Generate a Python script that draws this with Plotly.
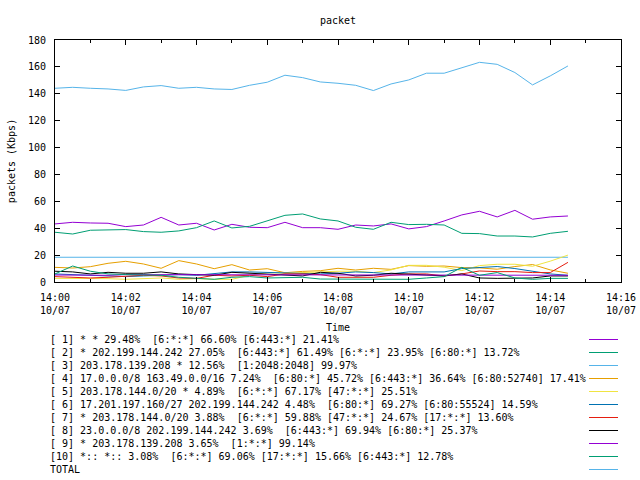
import pandas as pd
import plotly.graph_objects as go

# ---- data -------------------------------------------------------------
times = pd.date_range("2010-10-07 14:00:00", periods=30, freq="30s")

s1 = [43.2, 44.4, 43.9, 43.7, 41.2, 42.4, 48.1, 42.4, 43.7, 38.7, 42.9, 40.7, 40.4, 44.4, 40.4,
      40.4, 39.2, 42.4, 41.7, 43.2, 39.5, 41.2, 45.4, 49.9, 52.6, 48.4, 53.3, 46.7, 48.4, 49.1]
s2 = [37.0, 35.7, 38.5, 39.0, 39.0, 37.5, 37.0, 38.0, 40.4, 45.4, 40.2, 41.4, 45.7, 49.6, 50.6,
      46.9, 45.4, 40.7, 39.2, 44.4, 42.7, 42.9, 42.4, 36.2, 36.0, 34.2, 34.2, 33.5, 36.2, 37.7]
s3 = [18.4] * 30
s4 = [10.9, 10.4, 11.4, 13.9, 15.4, 13.4, 10.2, 15.9, 13.4, 9.9, 12.9, 8.9, 9.9, 6.9, 7.9,
      8.4, 10.2, 8.9, 10.2, 9.4, 12.2, 11.7, 11.9, 10.7, 10.5, 9.5, 11.5, 13.0, 9.0, 6.5]
s5 = [2.7, 2.7, 2.5, 2.5, 2.0, 2.5, 3.0, 2.0, 2.5, 2.0, 2.0, 5.0, 7.0, 6.5, 7.0,
      8.0, 8.0, 8.0, 7.0, 9.0, 12.4, 12.4, 11.0, 8.5, 12.2, 13.2, 13.2, 11.7, 15.5, 20.0]
s6 = [6.0, 5.5, 5.0, 4.5, 4.0, 4.5, 5.0, 5.5, 5.0, 6.0, 7.5, 7.5, 7.0, 7.0, 6.5,
      6.0, 6.5, 7.5, 7.0, 6.0, 7.5, 7.5, 7.5, 10.0, 11.0, 11.5, 10.0, 8.0, 6.0, 5.0]
s7 = [4.0, 3.5, 3.0, 3.5, 4.5, 5.0, 4.5, 3.0, 2.7, 5.0, 4.5, 5.0, 4.0, 6.0, 6.0,
      5.5, 3.5, 3.5, 3.5, 5.0, 6.0, 6.0, 4.5, 6.0, 8.2, 7.7, 7.7, 7.0, 7.0, 14.6]
s8 = [8.0, 7.5, 6.0, 7.2, 6.5, 6.5, 7.5, 6.0, 5.5, 5.0, 7.2, 6.5, 5.5, 5.0, 4.5,
      7.2, 6.5, 4.5, 5.0, 6.5, 6.0, 5.5, 4.5, 6.0, 3.0, 2.7, 2.7, 3.0, 4.5, 4.5]
s9 = [5.2, 5.0, 5.0, 5.0, 5.5, 5.5, 5.0, 5.0, 5.0, 5.5, 5.5, 5.5, 5.0, 5.0, 5.0,
      5.5, 5.5, 5.0, 5.0, 5.0, 5.5, 5.5, 5.0, 5.0, 5.5, 5.5, 5.0, 5.0, 5.0, 5.0]
s10 = [6.0, 11.9, 8.0, 6.0, 5.5, 5.5, 5.0, 3.5, 3.0, 2.0, 3.5, 4.0, 3.0, 3.0, 3.5,
       2.2, 2.2, 2.0, 2.0, 2.0, 2.0, 3.0, 4.0, 10.9, 5.0, 7.0, 3.0, 2.0, 2.7, 2.7]
total = [144.1, 144.8, 144.1, 143.6, 142.5, 145.1, 146.1, 144.1, 144.8, 143.6, 143.2, 146.3, 148.6,
         153.8, 152.0, 148.8, 147.8, 146.3, 142.4, 147.3, 150.3, 155.3, 155.3, 159.2, 163.4,
         161.9, 155.8, 146.6, 153.3, 160.7]

labels = [
    "[ 1] * * 29.48%  [6:*:*] 66.60% [6:443:*] 21.41%",
    "[ 2] * 202.199.144.242 27.05%  [6:443:*] 61.49% [6:*:*] 23.95% [6:80:*] 13.72%",
    "[ 3] 203.178.139.208 * 12.56%  [1:2048:2048] 99.97%",
    "[ 4] 17.0.0.0/8 163.49.0.0/16 7.24%  [6:80:*] 45.72% [6:443:*] 36.64% [6:80:52740] 17.41%",
    "[ 5] 203.178.144.0/20 * 4.89%  [6:*:*] 67.17% [47:*:*] 25.51%",
    "[ 6] 17.201.197.160/27 202.199.144.242 4.48%  [6:80:*] 69.27% [6:80:55524] 14.59%",
    "[ 7] * 203.178.144.0/20 3.88%  [6:*:*] 59.88% [47:*:*] 24.67% [17:*:*] 13.60%",
    "[ 8] 23.0.0.0/8 202.199.144.242 3.69%  [6:443:*] 69.94% [6:80:*] 25.37%",
    "[ 9] * 203.178.139.208 3.65%  [1:*:*] 99.14%",
    "[10] *:: *:: 3.08%  [6:*:*] 69.06% [17:*:*] 15.66% [6:443:*] 12.78%",
    "TOTAL",
]
series = [s1, s2, s3, s4, s5, s6, s7, s8, s9, s10, total]
colors = ["#9400d3", "#009e73", "#56b4e9", "#e69f00", "#f0e442", "#0072b2",
          "#e51e10", "#000000", "#9400d3", "#009e73", "#56b4e9"]

# ---- layout geometry (reference pixels) --------------------------------
W, H = 640, 480
PLOT_X0, PLOT_X1, PLOT_Y0, PLOT_Y1 = 55, 621, 40, 282
L, R, T, B = PLOT_X0, W - PLOT_X1, PLOT_Y0, H - PLOT_Y1
PW, PH = PLOT_X1 - PLOT_X0, PLOT_Y1 - PLOT_Y0
FONT = "DejaVu Sans Mono, monospace"


def px2paper_x(px):
    return (px - PLOT_X0) / PW


def px2paper_y(py):
    return (PLOT_Y1 - py) / PH


fig = go.Figure()
for name, ys, c in zip(labels, series, colors):
    fig.add_trace(go.Scatter(x=times, y=ys, mode="lines", name=name,
                             line=dict(color=c, width=1), showlegend=False,
                             hoverinfo="skip"))

# gnuplot-style key below the plot: text on the left, sample line on the right
for i, (name, c) in enumerate(zip(labels, colors)):
    ypx = 339.5 + 13 * i
    fig.add_annotation(x=px2paper_x(48), y=px2paper_y(ypx), xref="paper", yref="paper",
                       text=name.replace(" ", "\u00a0"), showarrow=False,
                       xanchor="left", yanchor="middle",
                       font=dict(family=FONT, size=10, color="black"))
    fig.add_shape(type="line", xref="paper", yref="paper",
                  x0=px2paper_x(589), x1=px2paper_x(618),
                  y0=px2paper_y(ypx), y1=px2paper_y(ypx),
                  line=dict(color=c, width=1))

axis_common = dict(showline=True, linecolor="black", linewidth=1, mirror="ticks",
                   ticks="inside", tickcolor="black", ticklen=5, tickwidth=1,
                   showgrid=False, zeroline=False,
                   tickfont=dict(family=FONT, size=10, color="black"))

fig.update_xaxes(type="date", range=["2010-10-07 14:00:00", "2010-10-07 14:16:00"],
                 dtick=120000, tick0="2010-10-07 14:00:00",
                 tickformat="%H:%M<br>%m/%d",
                 minor=dict(ticks="inside", dtick=60000, ticklen=3, tickcolor="black",
                            showgrid=False),
                 title=dict(text="Time", font=dict(family=FONT, size=10, color="black"),
                            standoff=8),
                 ticklabelstandoff=6,
                 **axis_common)
fig.update_yaxes(range=[0, 180], dtick=20,
                 title=dict(text="packets (Kbps)",
                            font=dict(family=FONT, size=10, color="black"),
                            standoff=10),
                 ticklabelstandoff=6,
                 **axis_common)

fig.update_layout(
    width=W, height=H,
    margin=dict(l=L, r=R, t=T, b=B, autoexpand=False),
    paper_bgcolor="white", plot_bgcolor="white",
    title=dict(text="packet", x=338 / W, xanchor="center",
               y=1 - 20 / H, yanchor="middle",
               font=dict(family=FONT, size=10, color="black")),
    font=dict(family=FONT, size=10, color="black"),
    hovermode=False,
)

fig.write_html(
    "out.html",
    config={"displayModeBar": False, "staticPlot": True},
    post_script="document.body.style.margin='0';document.body.style.overflow='hidden';",
)
